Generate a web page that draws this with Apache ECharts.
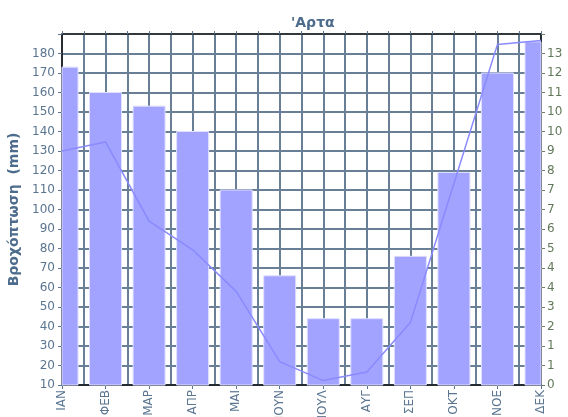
<!DOCTYPE html>
<html>
<head>
<meta charset="utf-8">
<script src="https://cdn.jsdelivr.net/npm/echarts@6/dist/echarts.min.js"></script>
<style>
  html, body { margin: 0; padding: 0; background: #fff; }
  #chart { width: 568px; height: 417px; }
</style>
</head>
<body>
<div id="chart"></div>
<script>
// months, rainfall (left axis, mm) and the line (right axis)
var months = ['ΙΑΝ', 'ΦΕΒ', 'ΜΑΡ', 'ΑΠΡ', 'ΜΑΙ', 'ΙΟΥΝ', 'ΙΟΥΛ', 'ΑΥΓ', 'ΣΕΠ', 'ΟΚΤ', 'ΝΟΕ', 'ΔΕΚ'];
var rain = [173, 160, 153, 140, 110, 66, 44, 44, 76, 119, 170, 186];
var lineVals = [9.0, 9.35, 6.3, 5.2, 3.6, 0.9, 0.17, 0.5, 2.4, 7.75, 13.1, 13.25];

var chartDom = document.getElementById('chart');
var myChart = echarts.init(chartDom);
var option;

var font = 'DejaVu Sans';
var barW = 32;

// bars sit on the month points, so the first and last ones must be cut at the plot edge
function renderBar(params, api) {
    var top = api.coord([api.value(0), api.value(1)]);
    var base = api.coord([api.value(0), 10]);
    var cs = params.coordSys;
    var rect = echarts.graphic.clipRectByRect(
        { x: top[0] - barW / 2, y: top[1], width: barW, height: base[1] - top[1] },
        { x: cs.x, y: cs.y, width: cs.width, height: cs.height }
    );
    if (!rect) return;
    return {
        type: 'rect',
        shape: rect,
        style: { fill: '#a2a2ff', stroke: '#e0e0ff', lineWidth: 1 }
    };
}

option = {
    animation: false,
    title: {
        text: "'Αρτα",
        left: 286,
        top: 11,
        textStyle: {
            fontFamily: font,
            fontSize: 14,
            fontWeight: 'bold',
            color: '#4d6b8c'
        }
    },
    grid: {
        left: 62,
        right: 27,
        top: 34,
        bottom: 32,
        containLabel: false,
        outerBoundsMode: 'none'
    },
    xAxis: [
        {
            type: 'category',
            data: months,
            boundaryGap: false,
            axisLine: { lineStyle: { color: '#111', width: 1.5 } },
            axisTick: { length: 4, lineStyle: { color: '#5a7590' } },
            axisLabel: {
                rotate: 90,
                margin: 5,
                fontFamily: font,
                fontSize: 12,
                color: '#5a7590'
            },
            splitLine: { show: false }
        },
        {
            // half-month grid lines and the top border
            type: 'value',
            position: 'top',
            min: 0,
            max: 11,
            interval: 0.5,
            axisLine: { show: true, lineStyle: { color: '#222', width: 1.5 } },
            axisTick: { show: true, length: 3, lineStyle: { color: '#5a7590' } },
            axisLabel: { show: false },
            splitLine: { show: true, lineStyle: { color: '#687f96', width: 2 } }
        }
    ],
    yAxis: [
        {
            type: 'value',
            min: 10,
            max: 190,
            interval: 10,
            name: 'Βροχόπτωση  (mm)',
            nameLocation: 'middle',
            nameGap: 37,
            nameTextStyle: {
                fontFamily: font,
                fontSize: 14,
                fontWeight: 'bold',
                color: '#4d6b8c'
            },
            axisLine: { show: true, lineStyle: { color: '#111', width: 1.5 } },
            axisTick: { show: true, length: 4, lineStyle: { color: '#5a7590' } },
            axisLabel: {
                margin: 7,
                fontFamily: font,
                fontSize: 12,
                color: '#5a7590',
                formatter: function (v) { return v >= 190 ? '' : v; }
            },
            splitLine: { show: true, lineStyle: { color: '#687f96', width: 2 } }
        },
        {
            type: 'value',
            position: 'right',
            min: 0,
            max: 13.5,
            interval: 0.75,
            axisLine: { show: true, lineStyle: { color: '#111', width: 1.5 } },
            axisTick: { show: true, length: 4, lineStyle: { color: '#6a7f62' } },
            axisLabel: {
                margin: 6,
                fontFamily: font,
                fontSize: 12,
                color: '#62785a',
                formatter: function (v) { return v > 13.4 ? '' : Math.round(v - 0.01); }
            },
            splitLine: { show: false }
        }
    ],
    series: [
        {
            name: 'rain',
            type: 'custom',
            renderItem: renderBar,
            encode: { x: 0, y: 1 },
            data: rain.map(function (v, i) { return [i, v]; })
        },
        {
            name: 'line',
            type: 'line',
            yAxisIndex: 1,
            data: lineVals,
            showSymbol: false,
            symbol: 'none',
            lineStyle: { color: '#8a8aff', width: 1.5 }
        }
    ]
};

option && myChart.setOption(option);
</script>
</body>
</html>
